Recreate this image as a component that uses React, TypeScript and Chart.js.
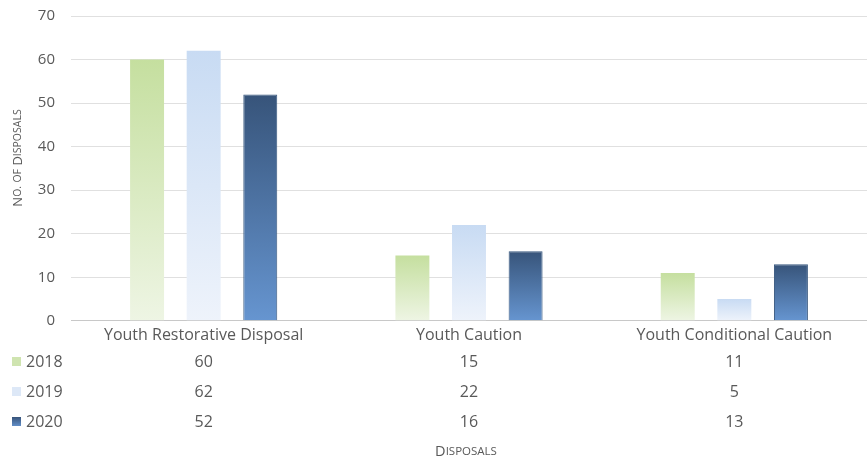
import React, { useEffect, useRef } from "react";
import { Chart, registerables } from "chart.js";

Chart.register(...registerables);

const categories = ["Youth Restorative Disposal", "Youth Caution", "Youth Conditional Caution"];
const years = ["2018", "2019", "2020"];
const values2018 = [60, 15, 11];
const values2019 = [62, 22, 5];
const values2020 = [52, 16, 13];
const yMax = 70;
const yStep = 10;

const FONT = "'Open Sans', Lato, sans-serif";
const TEXT = "#595959";

const gradStops: [string, string][] = [
  ["#c5df9f", "#eef5e4"],
  ["#c8dbf3", "#eef3fb"],
  ["#37547a", "#6695d0"],
];
const keyColors = ["#cfe4b0", "#dde8f7", "#4a6f9f"];
const borderColors = ["rgba(0,0,0,0)", "rgba(0,0,0,0)", "#3a5a80"];

function drawSmallCaps(c: CanvasRenderingContext2D, text: string, big: number, small: number) {
  const segs: { t: string; s: number }[] = [];
  for (const ch of text) {
    const isLower = ch !== ch.toUpperCase();
    const size = isLower || ch === "." ? small : big;
    const t = ch.toUpperCase();
    if (segs.length && segs[segs.length - 1].s === size) segs[segs.length - 1].t += t;
    else segs.push({ t, s: size });
  }
  let total = 0;
  for (const sg of segs) {
    c.font = `${sg.s}px ${FONT}`;
    total += c.measureText(sg.t).width;
  }
  let x = -total / 2;
  c.textAlign = "left";
  c.textBaseline = "middle";
  for (const sg of segs) {
    c.font = `${sg.s}px ${FONT}`;
    c.fillText(sg.t, x, 0);
    x += c.measureText(sg.t).width;
  }
}

const tablePlugin = {
  id: "dataTable",
  afterDraw(chart: any) {
    const c: CanvasRenderingContext2D = chart.ctx;
    const xs = chart.scales.x;
    const area = chart.chartArea;
    const rows = [values2018, values2019, values2020];
    const rowY = [362, 392, 422];
    c.save();
    rows.forEach((vals, r) => {
      const y = rowY[r];
      if (r === 2) {
        const g = c.createLinearGradient(0, y - 5, 0, y + 5);
        g.addColorStop(0, gradStops[2][0]);
        g.addColorStop(1, gradStops[2][1]);
        c.fillStyle = g;
      } else {
        c.fillStyle = keyColors[r];
      }
      c.fillRect(12, y - 5, 9, 9);
      c.fillStyle = TEXT;
      c.font = `16px ${FONT}`;
      c.textAlign = "left";
      c.textBaseline = "middle";
      c.fillText(years[r], 26, y);
      c.textAlign = "center";
      vals.forEach((v, i) => {
        c.fillText(String(v), xs.getPixelForValue(i), y);
      });
    });
    c.save();
    c.translate((area.left + area.right) / 2 - 3, 452);
    c.fillStyle = TEXT;
    drawSmallCaps(c, "Disposals", 14.5, 11.5);
    c.restore();
    c.save();
    c.translate(18, 158);
    c.rotate(-Math.PI / 2);
    c.fillStyle = TEXT;
    drawSmallCaps(c, "No. of Disposals", 13, 10.5);
    c.restore();
    c.restore();
  },
};

function makeBg(idx: number) {
  return (ctx: any) => {
    const chart = ctx.chart;
    const scales = chart.scales;
    if (ctx.type !== "data" || !scales || !scales.y) return gradStops[idx][0];
    const yTop = scales.y.getPixelForValue(ctx.raw);
    const yBase = scales.y.getPixelForValue(0);
    if (!isFinite(yTop) || !isFinite(yBase) || yTop === yBase) return gradStops[idx][0];
    const g = chart.ctx.createLinearGradient(0, yTop, 0, yBase);
    g.addColorStop(0, gradStops[idx][0]);
    g.addColorStop(1, gradStops[idx][1]);
    return g;
  };
}

export default function App() {
  const ref = useRef<HTMLCanvasElement | null>(null);
  useEffect(() => {
    document.body.style.margin = "0";
    const canvas = ref.current!;
    const series = [values2018, values2019, values2020];
    const chart = new Chart(canvas, {
      type: "bar",
      data: {
        labels: categories,
        datasets: series.map((vals, i) => ({
          label: years[i],
          data: vals,
          backgroundColor: makeBg(i),
          borderColor: borderColors[i],
          borderWidth: i === 2 ? 1 : 0,
          categoryPercentage: 0.64,
          barPercentage: 0.6,
        })),
      },
      options: {
        animation: false,
        responsive: false,
        maintainAspectRatio: false,
        layout: { padding: { top: 16, right: 0, bottom: 116, left: 0 } },
        plugins: { legend: { display: false }, tooltip: { enabled: false } },
        scales: {
          x: {
            grid: { display: false, drawTicks: false },
            border: { display: false },
            ticks: { color: TEXT, font: { family: FONT, size: 16 }, padding: 5, maxRotation: 0 },
          },
          y: {
            min: 0,
            max: yMax,
            afterFit: (s: any) => {
              s.width = 71;
              s.paddingTop = 0;
              s.paddingBottom = 0;
            },
            ticks: { stepSize: yStep, color: TEXT, font: { family: FONT, size: 15 }, padding: 16 },
            grid: {
              drawTicks: false,
              color: (c: any) => (c.tick && c.tick.value === 0 ? "#c8c8c8" : "#e0e0e0"),
            },
            border: { display: false },
          },
        },
      },
      plugins: [tablePlugin],
    });
    return () => chart.destroy();
  }, []);
  return <canvas ref={ref} width={867} height={466} style={{ display: "block" }} />;
}
